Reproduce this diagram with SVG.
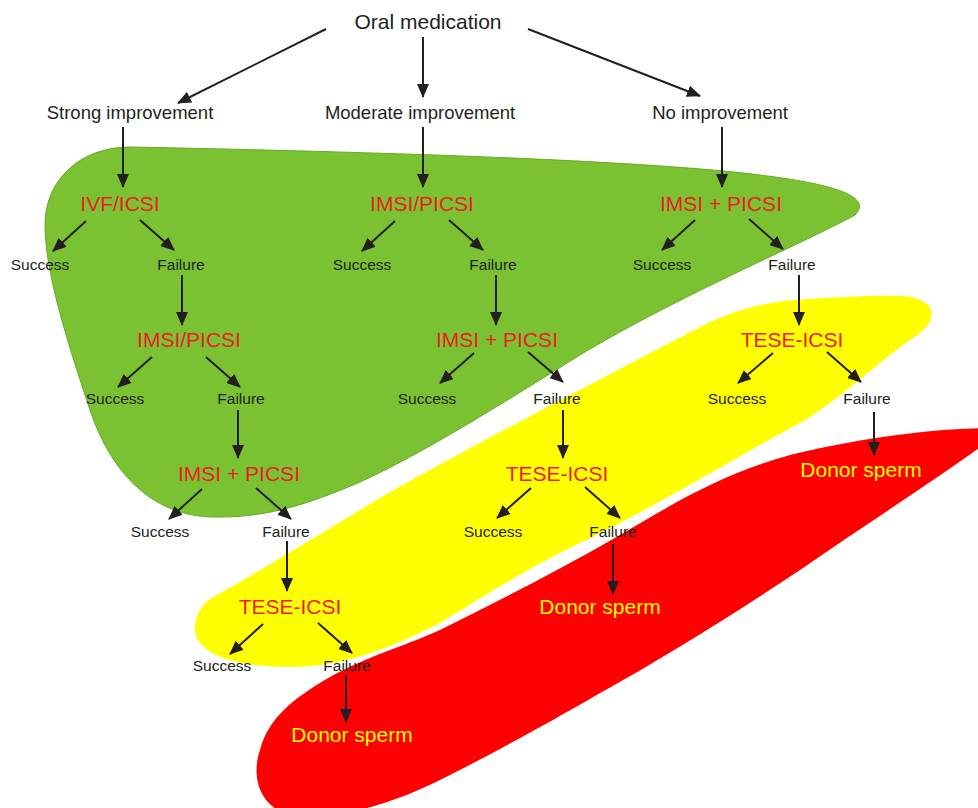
<svg xmlns="http://www.w3.org/2000/svg" width="978" height="808" viewBox="0 0 978 808">
<defs>
<marker id="ah" viewBox="0 0 14 12" refX="13" refY="6" markerWidth="14" markerHeight="12" markerUnits="userSpaceOnUse" orient="auto"><path d="M0,0 L14,6 L0,12 z" fill="#231f20"/></marker>
<style>
.t{font-family:"Liberation Sans",Arial,sans-serif;text-anchor:middle}
.top{font-size:18.5px;fill:#231f20}
.oral{font-size:21px;fill:#231f20}
.red{font-size:21px;fill:#ed1c24}
.don{font-size:21px;fill:#ffff00}
.sf{font-size:15.5px;fill:#231f20}
.c line{stroke:#231f20;stroke-width:2;marker-end:url(#ah)}
</style>
</defs>
<rect width="978" height="808" fill="#ffffff"/>
<g id="zones">
<path id="green" d="M 130,147 C 380,152 640,160 760,175 C 850,186 870,200 855,215 C 800,245 680,295 580,355 C 500,405 420,455 360,482 C 300,508 260,518 213,517 C 150,516 110,470 90,410 C 65,335 45,270 45,225 C 45,180 80,147 130,147 Z" fill="#7ac231" stroke="#6aa82a" stroke-width="1"/>
<path id="yellow" d="M 213,597 C 250,577 330,528 380,498 C 450,458 560,400 700,327 C 740,307 770,301 810,299 C 860,296 900,294 915,298 C 940,305 935,325 913,338 C 880,360 840,400 800,423 C 740,455 650,510 580,543 C 520,572 470,605 440,623 C 400,643 350,667 290,667 C 250,667 210,660 198,640 C 190,625 198,606 213,597 Z" fill="#ffff00"/>
<path id="red" d="M 440,630 C 500,600 560,570 620,535 C 680,500 720,475 790,455 C 850,440 930,428 990,428 L 990,440 C 950,470 880,515 800,570 C 740,610 660,660 600,693 C 540,728 480,760 440,780 C 390,805 330,822 290,815 C 262,808 250,780 260,750 C 268,720 290,700 330,677 C 370,655 400,648 440,630 Z" fill="#ff0000"/>
</g>
<g class="c" id="connectors">
<line x1="326" y1="29" x2="178" y2="103"/>
<line x1="423" y1="37" x2="423" y2="97"/>
<line x1="528" y1="29" x2="700" y2="96"/>
<line x1="123" y1="127" x2="123" y2="187"/>
<line x1="423" y1="127" x2="423" y2="187"/>
<line x1="722" y1="127" x2="722" y2="187"/>
<line x1="86" y1="221" x2="53" y2="251"/>
<line x1="140" y1="220" x2="174" y2="250"/>
<line x1="395" y1="221" x2="362" y2="251"/>
<line x1="449" y1="220" x2="483" y2="250"/>
<line x1="695" y1="220" x2="662" y2="250"/>
<line x1="749" y1="219" x2="783" y2="249"/>
<line x1="182" y1="275" x2="182" y2="325"/>
<line x1="496" y1="275" x2="496" y2="325"/>
<line x1="799" y1="275" x2="799" y2="325"/>
<line x1="152" y1="357" x2="118" y2="387"/>
<line x1="206" y1="357" x2="240" y2="387"/>
<line x1="474" y1="353" x2="440" y2="383"/>
<line x1="528" y1="352" x2="563" y2="382"/>
<line x1="773" y1="353" x2="738" y2="383"/>
<line x1="827" y1="352" x2="861" y2="382"/>
<line x1="238" y1="410" x2="238" y2="458"/>
<line x1="563" y1="410" x2="563" y2="458"/>
<line x1="874" y1="412" x2="874" y2="455"/>
<line x1="202" y1="489" x2="169" y2="519"/>
<line x1="256" y1="488" x2="291" y2="519"/>
<line x1="531" y1="488" x2="497" y2="518"/>
<line x1="585" y1="487" x2="620" y2="518"/>
<line x1="287" y1="541" x2="287" y2="591"/>
<line x1="613" y1="544" x2="613" y2="594"/>
<line x1="263" y1="624" x2="230" y2="654"/>
<line x1="318" y1="623" x2="352" y2="653"/>
<line x1="346" y1="675" x2="346" y2="722"/>
</g>
<g id="n-oral"><text class="t oral" x="428" y="29">Oral medication</text></g>
<g id="n-strong"><text class="t top" x="130" y="119">Strong improvement</text></g>
<g id="n-moderate"><text class="t top" x="420" y="119">Moderate improvement</text></g>
<g id="n-none"><text class="t top" x="720" y="119">No improvement</text></g>
<g id="n-ivf"><text class="t red" x="120" y="211">IVF/ICSI</text></g>
<g id="n-imsi-c2"><text class="t red" x="422" y="211">IMSI/PICSI</text></g>
<g id="n-imsip-c3"><text class="t red" x="721" y="211">IMSI + PICSI</text></g>
<g id="n-s1a"><text class="t sf" x="40" y="270">Success</text></g>
<g id="n-f1a"><text class="t sf" x="181" y="270">Failure</text></g>
<g id="n-s1b"><text class="t sf" x="362" y="270">Success</text></g>
<g id="n-f1b"><text class="t sf" x="493" y="270">Failure</text></g>
<g id="n-s1c"><text class="t sf" x="662" y="270">Success</text></g>
<g id="n-f1c"><text class="t sf" x="792" y="270">Failure</text></g>
<g id="n-imsi-c1"><text class="t red" x="189" y="347">IMSI/PICSI</text></g>
<g id="n-imsip-c2"><text class="t red" x="497" y="347">IMSI + PICSI</text></g>
<g id="n-tese-c3"><text class="t red" x="792" y="347">TESE-ICSI</text></g>
<g id="n-s2a"><text class="t sf" x="115" y="404">Success</text></g>
<g id="n-f2a"><text class="t sf" x="241" y="404">Failure</text></g>
<g id="n-s2b"><text class="t sf" x="427" y="404">Success</text></g>
<g id="n-f2b"><text class="t sf" x="557" y="404">Failure</text></g>
<g id="n-s2c"><text class="t sf" x="737" y="404">Success</text></g>
<g id="n-f2c"><text class="t sf" x="867" y="404">Failure</text></g>
<g id="n-imsip-c1"><text class="t red" x="239" y="481">IMSI + PICSI</text></g>
<g id="n-tese-c2"><text class="t red" x="557" y="481">TESE-ICSI</text></g>
<g id="n-donor-c3"><text class="t don" x="861" y="477">Donor sperm</text></g>
<g id="n-s3a"><text class="t sf" x="160" y="537">Success</text></g>
<g id="n-f3a"><text class="t sf" x="286" y="537">Failure</text></g>
<g id="n-s3b"><text class="t sf" x="493" y="537">Success</text></g>
<g id="n-f3b"><text class="t sf" x="613" y="537">Failure</text></g>
<g id="n-tese-c1"><text class="t red" x="290" y="614">TESE-ICSI</text></g>
<g id="n-donor-c2"><text class="t don" x="600" y="614">Donor sperm</text></g>
<g id="n-s4a"><text class="t sf" x="222" y="671">Success</text></g>
<g id="n-f4a"><text class="t sf" x="347" y="671">Failure</text></g>
<g id="n-donor-c1"><text class="t don" x="352" y="742">Donor sperm</text></g>
</svg>
